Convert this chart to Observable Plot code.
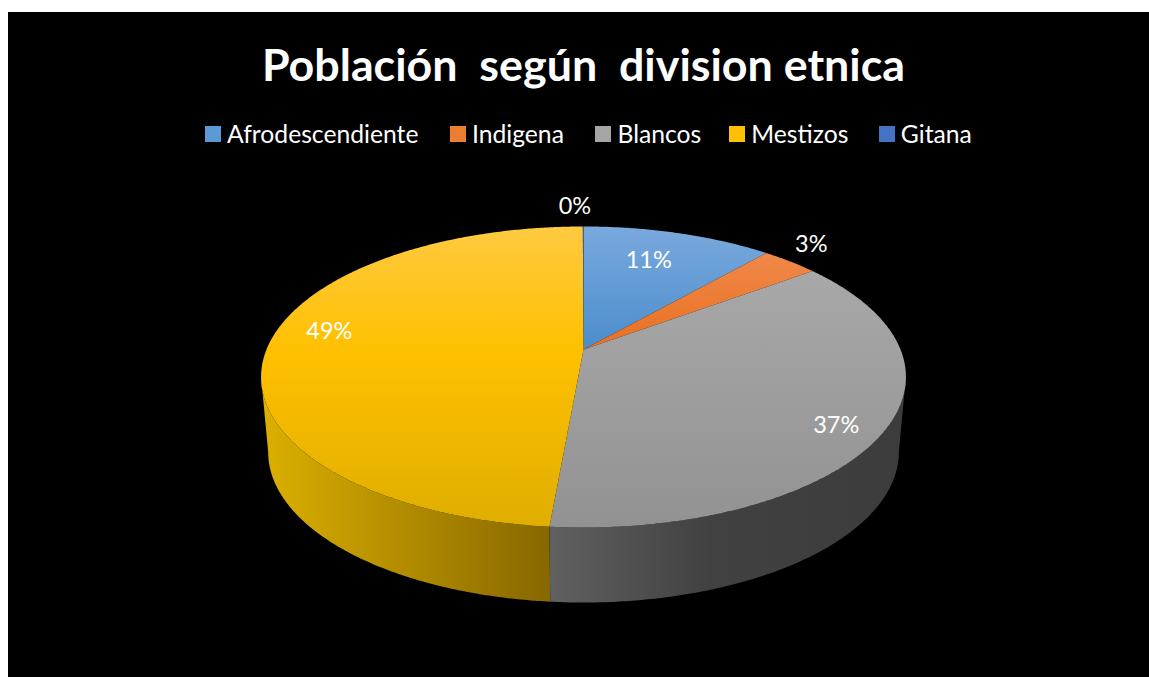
<!DOCTYPE html>
<html lang="es">
<head>
<meta charset="utf-8">
<script src="https://cdn.jsdelivr.net/npm/d3@7"></script>
<script src="https://cdn.jsdelivr.net/npm/@observablehq/plot@0.6"></script>
<style>
  html, body { margin: 0; padding: 0; background: #fff; overflow: hidden; }
  #panel { position: absolute; left: 8px; top: 12px; width: 1141px; height: 665px; background: #000; color: #fff; font-family: Lato, "Open Sans", sans-serif; }
  #title { position: absolute; left: 0; top: 22px; width: 1151px; text-align: center; font-size: 44.8px; line-height: 60px; font-weight: 700; white-space: pre; }
  #legend { position: absolute; left: 197px; top: 106px; height: 32px; display: flex; align-items: center; font-size: 24.7px; line-height: 32px; white-space: pre; }
  #legend .item { display: flex; align-items: center; margin-right: 31.5px; }
  #legend .item:nth-child(3) { margin-right: 28px; }
  #legend .item:nth-child(4) { margin-right: 30.5px; }
  #legend .sw { width: 16px; height: 16px; margin-right: 6px; }
  #chart { position: absolute; left: 0; top: 148px; }
  #chart svg { display: block; background: transparent; }
</style>
</head>
<body>
<div id="panel">
  <div id="title"></div>
  <div id="legend"></div>
  <div id="chart"></div>
</div>
<script>
// ---- data ----
const titleText = "Población  según  division etnica";
const categories = ["Afrodescendiente", "Indigena", "Blancos", "Mestizos", "Gitana"];
const shares = [11.4, 3.4, 36.6, 48.56, 0.04];
const colors = ["#5b9bd5", "#ed7d31", "#a5a5a5", "#ffc000", "#4472c4"];

// ---- layout of the tilted disc, in SVG pixels ----
const W = 1141, H = 517;
const cx = 575, cy = 189;
const ax = 317, ay = 145.5, k = 0.1827;
const depthY = 75, baseScale = 0.978;
const labelPlace = {
  Afrodescendiente: {r: 0.726, nudge: -1.9},
  Indigena: {r: 1.176, nudge: -2.4},
  Blancos: {r: 0.871, nudge: 4.2},
  Mestizos: {r: 0.83, nudge: 6.3},
  Gitana: {r: 1.2, nudge: -1.5}
};

const rad = d => d * Math.PI / 180;
function project(deg, r = 1, base = false) {
  const u = r * Math.sin(rad(deg)), v = r * Math.cos(rad(deg)), w = 1 + k * v;
  const s = base ? baseScale : 1;
  return {x: cx + s * ax * u / w, y: cy + (base ? depthY : 0) - ay * v / w};
}
function arc(a, b, base = false) {
  const n = Math.max(2, Math.ceil(Math.abs(b - a) * 2));
  return d3.range(n + 1).map(i => project(a + (b - a) * i / n, 1, base));
}

let acc = 0;
const slices = categories.map((name, i) => {
  const a0 = acc / 100 * 360; acc += shares[i];
  return {name, i, a0, a1: acc / 100 * 360, share: shares[i]};
});
const rightEdge = Math.acos(-k) * 180 / Math.PI;   // rim angle of the widest point, right
const leftEdge = 360 - rightEdge;                  // same, left

const tops = slices.map(s => ({s, pts: [{x: cx, y: cy}, ...arc(s.a0, s.a1)]}));
const blancos = slices[2], mestizos = slices[3];
const sideGrey = [...arc(rightEdge, blancos.a1), ...arc(blancos.a1, rightEdge, true)];
const sideGold = [...arc(mestizos.a0, leftEdge), ...arc(leftEdge, mestizos.a0, true)];

const labels = slices.map(s => {
  const p = labelPlace[s.name];
  const at = project((s.a0 + s.a1) / 2 + p.nudge, p.r);
  return {x: at.x, y: at.y, text: Math.round(s.share) + "%"};
});

const topId = i => `top${i}`;
const defs = () => {
  const ns = "http://www.w3.org/2000/svg";
  const d = document.createElementNS(ns, "defs");
  const topStops = [
    [["0", "#7aa9dd"], ["0.42", "#4a8ccc"]],
    [["0", "#f28f55"], ["0.42", "#e86f1e"]],
    [["0", "#acacac"], ["1", "#929292"]],
    [["0", "#ffca40"], ["0.42", "#ffc000"], ["1", "#dfae00"]],
    [["0", "#4472c4"], ["1", "#4472c4"]]
  ];
  const add = (id, x1, y1, x2, y2, stops) => {
    const g = document.createElementNS(ns, "linearGradient");
    g.setAttribute("id", id);
    g.setAttribute("gradientUnits", "userSpaceOnUse");
    g.setAttribute("x1", x1); g.setAttribute("y1", y1);
    g.setAttribute("x2", x2); g.setAttribute("y2", y2);
    for (const [o, c] of stops) {
      const st = document.createElementNS(ns, "stop");
      st.setAttribute("offset", o); st.setAttribute("stop-color", c);
      g.appendChild(st);
    }
    d.appendChild(g);
  };
  topStops.forEach((stops, i) => add(topId(i), 0, cy - 123, 0, cy + 178, stops));
  add("sideGold", cx - 322, 0, cx - 34, 0, [["0", "#dcb000"], ["1", "#876700"]]);
  add("sideGrey", cx - 34, 0, cx + 322, 0, [["0", "#606060"], ["0.45", "#414141"], ["1", "#3c3c3c"]]);
  return d;
};

const poly = (pts, fill) => Plot.line(pts, {x: "x", y: "y", fill, stroke: "none", curve: "linear"});

const plot = Plot.plot({
  width: W, height: H,
  margin: 0,
  style: {background: "transparent", overflow: "visible"},
  x: {domain: [0, W], range: [0, W], axis: null},
  y: {domain: [0, H], range: [0, H], axis: null},
  marks: [
    defs,
    poly(sideGold, "url(#sideGold)"),
    poly(sideGrey, "url(#sideGrey)"),
    ...tops.map(t => poly(t.pts, `url(#${topId(t.s.i)})`)),
    Plot.text(labels, {x: "x", y: "y", text: "text", fill: "#fff", fontSize: 23.5, fontFamily: "Lato, 'Open Sans', sans-serif", textAnchor: "middle", lineAnchor: "middle"})
  ]
});
document.getElementById("chart").appendChild(plot);

document.getElementById("title").textContent = titleText;
const legend = document.getElementById("legend");
categories.forEach((name, i) => {
  const item = document.createElement("div"); item.className = "item";
  const sw = document.createElement("div"); sw.className = "sw"; sw.style.background = colors[i];
  const tx = document.createElement("span"); tx.textContent = name;
  item.append(sw, tx); legend.append(item);
});
</script>
</body>
</html>
